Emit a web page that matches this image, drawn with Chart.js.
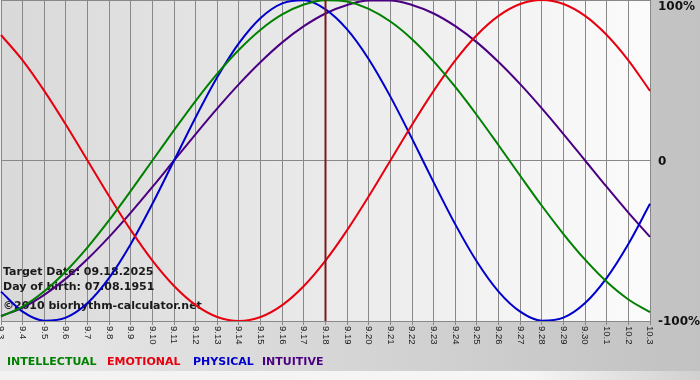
<!DOCTYPE html>
<html>
<head>
<meta charset="utf-8">
<script src="https://cdn.jsdelivr.net/npm/chart.js@4/dist/chart.umd.min.js"></script>
<style>
  html, body { margin: 0; padding: 0; background: #ffffff; }
  #wrap { width: 700px; height: 380px; }
</style>
</head>
<body>
<div id="wrap"><canvas id="c" width="700" height="380"></canvas></div>
<script>
const labels = ['9.3','9.4','9.5','9.6','9.7','9.8','9.9','9.10','9.11','9.12','9.13','9.14','9.15','9.16','9.17','9.18','9.19','9.20','9.21','9.22','9.23','9.24','9.25','9.26','9.27','9.28','9.29','9.30','10.1','10.2','10.3'];

const intellectual = [-0.972,-0.910,-0.815,-0.690,-0.541,-0.372,-0.189,0.000,0.189,0.372,0.541,0.690,0.815,0.910,0.972,0.999,0.990,0.945,0.866,0.756,0.618,0.458,0.282,0.095,-0.095,-0.282,-0.458,-0.618,-0.756,-0.866,-0.945];
const emotional    = [0.782,0.624,0.434,0.223,0.000,-0.223,-0.434,-0.624,-0.782,-0.901,-0.975,-1.000,-0.975,-0.901,-0.782,-0.624,-0.434,-0.223,0.000,0.223,0.434,0.624,0.782,0.901,0.975,1.000,0.975,0.901,0.782,0.624,0.434];
const physical     = [-0.817,-0.942,-0.998,-0.979,-0.888,-0.731,-0.520,-0.270,0.000,0.270,0.520,0.731,0.888,0.979,0.998,0.942,0.817,0.631,0.398,0.136,-0.136,-0.398,-0.631,-0.817,-0.942,-0.998,-0.979,-0.888,-0.731,-0.520,-0.270];
const intuitive    = [-0.969,-0.916,-0.837,-0.736,-0.614,-0.476,-0.325,-0.165,0.000,0.165,0.325,0.476,0.614,0.736,0.837,0.916,0.969,0.997,0.997,0.969,0.916,0.837,0.736,0.614,0.476,0.325,0.165,0.000,-0.165,-0.325,-0.476];

const seriesNames = ['INTELLECTUAL','EMOTIONAL','PHYSICAL','INTUITIVE'];
const yTickValues = [1, 0, -1];
const yTickLabels = ['100%', '0', '-100%'];
const targetLabel = '9.18';
const infoLines = ['Target Date: 09.18.2025', 'Day of birth: 07.08.1951', '\u00A92010 biorhythm-calculator.net'];

const COLORS = ['#008000', '#e8000e', '#0000cc', '#4b0082'];
const LEGEND_X = [7, 107, 193, 262];
const INFO_Y = [272, 287, 306];
const BOLD = 'bold 11px "DejaVu Sans"';

const drawPlugin = {
  id: 'bioDraw',
  beforeDraw(chart) {
    const ctx = chart.ctx, a = chart.chartArea;
    ctx.save();
    let g = ctx.createLinearGradient(0, 0, 700, 0);
    g.addColorStop(0, '#e9e9e9');
    g.addColorStop(0.93, '#c4c4c4');
    g.addColorStop(1, '#c2c2c2');
    ctx.fillStyle = g;
    ctx.fillRect(0, 0, 700, 380);
    g = ctx.createLinearGradient(0, 0, 700, 0);
    g.addColorStop(0, '#f2f2f2');
    g.addColorStop(0.75, '#f6f6f6');
    g.addColorStop(1, '#d0d0d0');
    ctx.fillStyle = g;
    ctx.fillRect(0, 371, 700, 9);
    g = ctx.createLinearGradient(a.left, 0, a.right, 0);
    g.addColorStop(0, '#d9d9d9');
    g.addColorStop(1, '#fbfbfb');
    ctx.fillStyle = g;
    ctx.fillRect(a.left, a.top, a.right - a.left, a.bottom - a.top);
    ctx.restore();
  },
  beforeDatasetsDraw(chart) {
    const ctx = chart.ctx;
    ctx.save();
    ctx.font = BOLD;
    ctx.fillStyle = '#1a1a1a';
    ctx.textAlign = 'left';
    ctx.textBaseline = 'middle';
    infoLines.forEach((t, i) => ctx.fillText(t, 3, INFO_Y[i]));
    ctx.restore();
  },
  afterDatasetsDraw(chart) {
    const ctx = chart.ctx, a = chart.chartArea;
    const xs = chart.scales.x;
    const px = xs.getPixelForValue(labels.indexOf(targetLabel));
    ctx.save();
    ctx.strokeStyle = '#7a1a1a';
    ctx.lineWidth = 2;
    ctx.beginPath();
    ctx.moveTo(px, a.top);
    ctx.lineTo(px, a.bottom);
    ctx.stroke();
    ctx.restore();
  },
  afterDraw(chart) {
    const ctx = chart.ctx, a = chart.chartArea;
    const xs = chart.scales.x, ys = chart.scales.y;
    ctx.save();
    ctx.font = '9.5px "Liberation Sans"';
    ctx.fillStyle = '#1e1e1e';
    ctx.textAlign = 'left';
    ctx.textBaseline = 'middle';
    labels.forEach((lab, i) => {
      const x = xs.getPixelForValue(i);
      ctx.save();
      ctx.translate(x, a.bottom + 5);
      ctx.rotate(Math.PI / 2);
      ctx.fillText(lab, 0, 0);
      ctx.restore();
    });
    ctx.font = 'bold 12px "DejaVu Sans"';
    ctx.fillStyle = '#111';
    yTickValues.forEach((v, i) => {
      const y = Math.max(ys.getPixelForValue(v) + 1, 7);
      ctx.fillText(yTickLabels[i], 658, y);
    });
    ctx.font = BOLD;
    chart.data.datasets.forEach((ds, i) => {
      ctx.fillStyle = ds.borderColor;
      ctx.fillText(ds.label, LEGEND_X[i], 362);
    });
    ctx.restore();
  }
};

const seriesData = [intellectual, emotional, physical, intuitive];

new Chart(document.getElementById('c'), {
  type: 'line',
  data: {
    labels: labels,
    datasets: seriesNames.map((name, i) => ({
      label: name,
      data: seriesData[i],
      borderColor: COLORS[i],
      borderWidth: 2,
      pointRadius: 0,
      cubicInterpolationMode: 'monotone',
      fill: false
    }))
  },
  options: {
    responsive: false,
    animation: false,
    devicePixelRatio: 1,
    layout: { padding: { left: 1, right: 50, top: 0, bottom: 0 } },
    plugins: { legend: { display: false }, tooltip: { enabled: false } },
    scales: {
      x: {
        ticks: { display: false },
        grid: { color: '#888', lineWidth: 1, drawTicks: true, tickLength: 4, tickColor: '#888' },
        border: { display: true, color: '#888' },
        afterFit(s) { s.height = 59; }
      },
      y: {
        min: -1, max: 1,
        ticks: { display: false },
        afterBuildTicks(s) { s.ticks = yTickValues.map(v => ({ value: v })); },
        grid: { color: '#888', lineWidth: 1, drawTicks: false },
        border: { display: false },
        afterFit(s) { s.width = 0; }
      }
    }
  },
  plugins: [drawPlugin]
});
</script>
</body>
</html>
